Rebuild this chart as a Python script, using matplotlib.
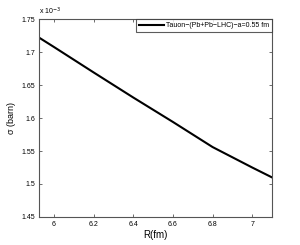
import numpy as np
import matplotlib
matplotlib.use('Agg')
from matplotlib import pyplot as plt
from matplotlib.ticker import FuncFormatter

# cross section vs radius
R = [5.925, 6.0, 6.2, 6.4, 6.6, 6.8, 7.0, 7.1]
sigma = [1.7217e-3, 1.7075e-3, 1.669e-3, 1.631e-3, 1.594e-3, 1.556e-3, 1.525e-3, 1.510e-3]
label = 'Tauon\u2212(Pb+Pb\u2212LHC)\u2212a=0.55 fm'
xticks = [6, 6.2, 6.4, 6.6, 6.8, 7]
yticks = [1.45e-3, 1.5e-3, 1.55e-3, 1.6e-3, 1.65e-3, 1.7e-3, 1.75e-3]

plt.rcParams['font.family'] = ['Liberation Sans', 'DejaVu Sans']

fig = plt.figure(figsize=(3.0, 2.45), dpi=100)
ax = fig.add_axes([0.13, 0.1143, 0.7767, 0.8081])

ax.plot(R, sigma, color='black', linewidth=1.5, label=label)

ax.set_xlim(5.924, 7.1)
ax.set_ylim(1.45e-3, 1.75e-3)
ax.set_xticks(xticks)
ax.xaxis.set_major_formatter(FuncFormatter(lambda v, p: '%g' % v))
ax.set_yticks(yticks)
ax.yaxis.set_major_formatter(FuncFormatter(lambda v, p: '%g' % round(v * 1e3, 4)))
ax.text(0.0, 1.008, 'x 10$^{-3}$', transform=ax.transAxes, fontsize=5,
        ha='left', va='bottom')

ax.tick_params(direction='in', length=2.5, width=0.6, labelsize=5, colors='#555555',
               labelcolor='black', top=True, right=True, pad=3)
for s in ax.spines.values():
    s.set_color('#555555')
    s.set_linewidth(0.8)

ax.set_xlabel('R(fm)', fontsize=7, labelpad=1)
ax.set_ylabel('\u03c3 (barn)', fontsize=6.5, labelpad=4)

leg = ax.legend(loc='upper right', fontsize=5, borderaxespad=0, frameon=True,
                fancybox=False, handlelength=3.6, handletextpad=0.3,
                borderpad=0.45)
leg.get_frame().set_edgecolor('#333333')
leg.get_frame().set_linewidth(0.8)

fig.savefig('out.png', dpi=100)
